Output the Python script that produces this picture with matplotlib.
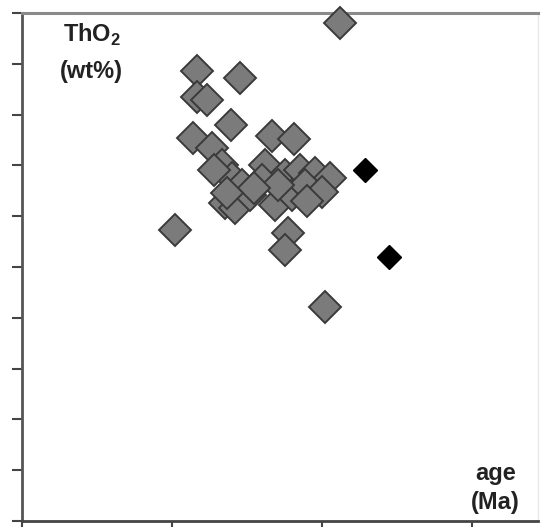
import matplotlib.pyplot as plt
from matplotlib.ticker import MultipleLocator

plt.rcParams["font.family"] = "Liberation Sans"
plt.rcParams["mathtext.fontset"] = "custom"
plt.rcParams["mathtext.rm"] = "Liberation Sans"
plt.rcParams["mathtext.bf"] = "Liberation Sans:bold"

# grey monazite analyses: age (Ma) and ThO2 (wt%)
grey_age = [212.0, 116.7, 145.3, 116.7, 123.3, 139.3, 114.0, 126.7,
            166.7, 181.3, 133.3, 162.0, 140.0, 146.7, 175.3, 185.3,
            195.3, 205.3, 135.3, 142.0, 152.0, 160.0, 168.7, 180.0,
            188.7, 200.0, 102.0, 177.3, 175.3, 202.0, 170.7, 128.0,
            155.0, 137.0, 190.0]
grey_tho2 = [9.80, 8.86, 8.72, 8.35, 8.29, 7.80, 7.54, 7.34,
             7.58, 7.52, 7.01, 7.01, 6.75, 6.61, 6.81, 6.91,
             6.85, 6.75, 6.26, 6.16, 6.42, 6.71, 6.22, 6.42,
             6.61, 6.48, 5.73, 5.67, 5.33, 4.21, 6.61, 6.90,
             6.55, 6.45, 6.30]

# black analyses
black_age = [228.7, 244.7]
black_tho2 = [6.91, 5.20]

fig = plt.figure(figsize=(5.43, 5.27), dpi=100, facecolor="w")
ax = fig.add_axes([0.0405, 0.0114, 0.9503, 0.9639])

ax.plot(grey_age, grey_tho2, linestyle="none", marker="D", markersize=16,
        markerfacecolor="#7b7b7b", markeredgecolor="#3a3a3a",
        markeredgewidth=1.4, clip_on=False, zorder=5)
ax.plot(black_age, black_tho2, linestyle="none", marker="D", markersize=12.5,
        markerfacecolor="black", markeredgecolor="black", clip_on=False,
        zorder=6)

ax.set_xlim(0, 344)
ax.set_ylim(0, 10)
ax.xaxis.set_major_locator(MultipleLocator(100))
ax.yaxis.set_major_locator(MultipleLocator(1))
ax.tick_params(axis="both", direction="out", length=7, width=1.5,
               color="#444444", labelleft=False, labelbottom=False)

ax.spines["left"].set_color("#555555")
ax.spines["left"].set_linewidth(2)
ax.spines["bottom"].set_color("#444444")
ax.spines["bottom"].set_linewidth(2)
ax.spines["top"].set_color("#8a8a8a")
ax.spines["top"].set_linewidth(2.2)
ax.spines["right"].set_color("#e8e8e8")
ax.spines["right"].set_linewidth(1)

label_style = dict(transform=ax.transAxes, ha="center", va="center",
                   fontsize=17, fontweight="bold", color="#222222")
ax.text(0.135, 0.957, r"ThO$_\mathbf{2}$", **label_style)
ax.text(0.135, 0.884, "(wt%)", **label_style)
ax.text(0.918, 0.094, "age", **label_style)
ax.text(0.918, 0.037, "(Ma)", **label_style)

plt.savefig("out.png", dpi=100)
